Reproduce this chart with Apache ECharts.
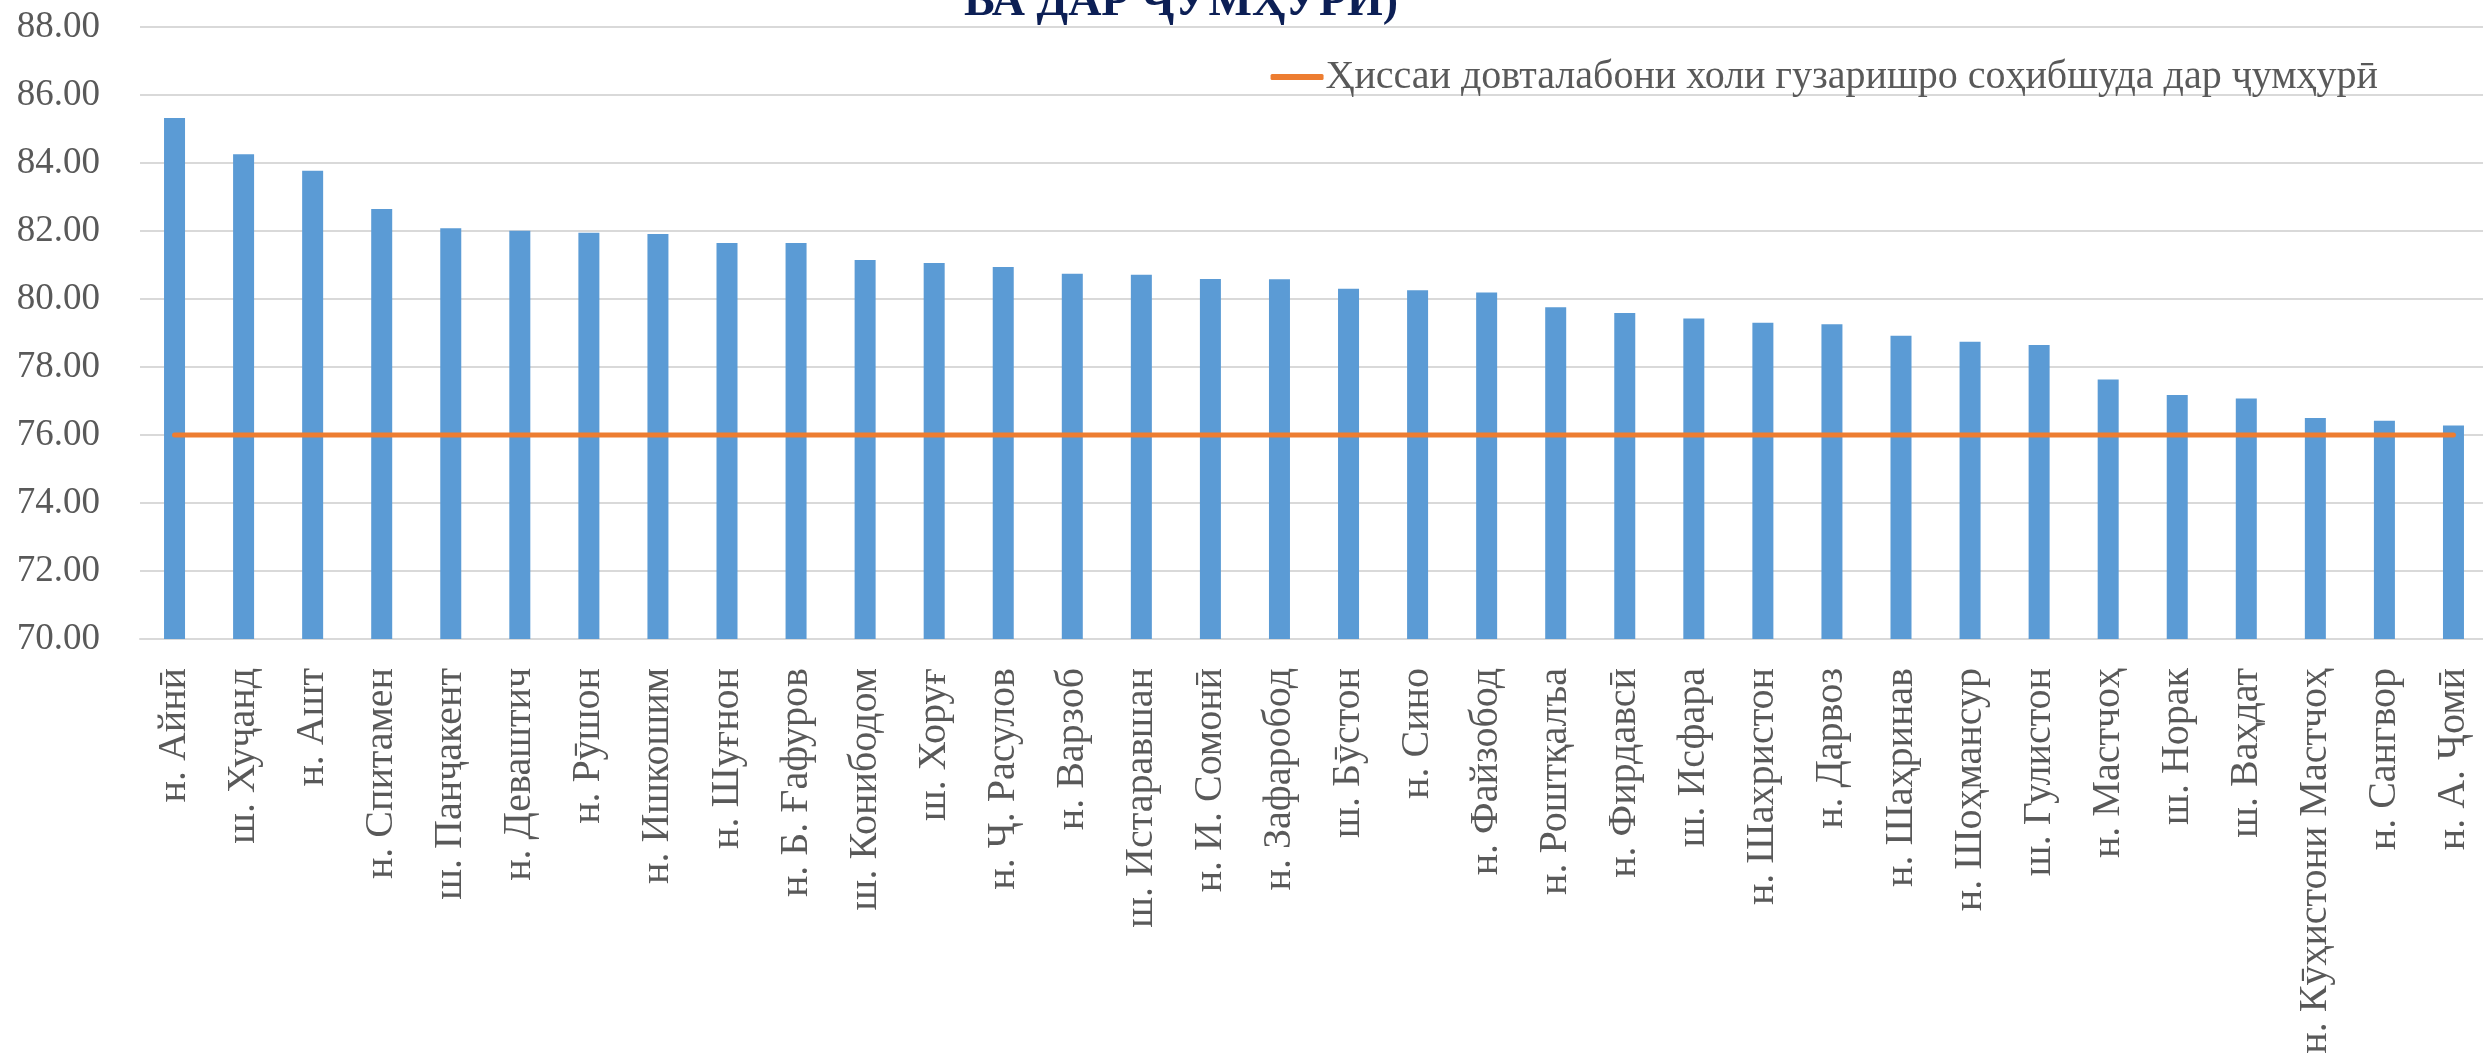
<!DOCTYPE html>
<html>
<head>
<meta charset="utf-8">
<script src="https://cdn.jsdelivr.net/npm/echarts@6/dist/echarts.min.js"></script>
<style>
  html, body { margin: 0; padding: 0; background: #fff; }
  #chart { width: 2483px; height: 1054px; }
</style>
</head>
<body>
<div id="chart"></div>
<script>
const districts = [
  'н. Айнӣ', 'ш. Хуҷанд', 'н. Ашт', 'н. Спитамен', 'ш. Панҷакент', 'н. Деваштич',
  'н. Рӯшон', 'н. Ишкошим', 'н. Шуғнон', 'н. Б. Ғафуров', 'ш. Конибодом', 'ш. Хоруғ',
  'н. Ҷ. Расулов', 'н. Варзоб', 'ш. Истаравшан', 'н. И. Сомонӣ', 'н. Зафаробод',
  'ш. Бӯстон', 'н. Сино', 'н. Файзобод', 'н. Роштқалъа', 'н. Фирдавсӣ', 'ш. Исфара',
  'н. Шахристон', 'н. Дарвоз', 'н. Шаҳринав', 'н. Шоҳмансур', 'ш. Гулистон',
  'н. Мастчоҳ', 'ш. Норак', 'ш. Ваҳдат', 'н. Кӯҳистони Мастчоҳ', 'н. Сангвор', 'н. А. Ҷомӣ'
]

// share of applicants who passed, by district (%)
const districtShare = [
  85.32, 84.26, 83.77, 82.65, 82.08, 82.01, 81.95, 81.91, 81.65, 81.65,
  81.15, 81.06, 80.94, 80.74, 80.71, 80.59, 80.58, 80.30, 80.26, 80.19,
  79.76, 79.59, 79.43, 79.30, 79.26, 78.92, 78.74, 78.65, 77.63, 77.18,
  77.07, 76.50, 76.42, 76.28
]

// republic-wide share, same for every district
const republicShare = [
  76, 76, 76, 76, 76, 76, 76, 76, 76, 76,
  76, 76, 76, 76, 76, 76, 76, 76, 76, 76,
  76, 76, 76, 76, 76, 76, 76, 76, 76, 76,
  76, 76, 76, 76
]

const yMin = 70
const yMax = 88
const yStep = 2

const titleText = 'ВА ДАР ҶУМҲУРӢ)'
const lineName = 'Ҳиссаи довталабони холи гузаришро соҳибшуда дар ҷумҳурӣ'

const font = '"Liberation Serif", "Times New Roman", serif'
const grey = '#595959'

const chart = echarts.init(document.getElementById('chart'), null, { renderer: 'canvas' })

const option = {
  backgroundColor: '#fff',
  animation: false,
  textStyle: { fontFamily: font },

  // only the last line of the title is visible, the rest is cut off above
  title: {
    text: titleText,
    left: 964,
    top: -20,
    padding: 0,
    textStyle: { fontFamily: font, fontSize: 46, fontWeight: 'bold', color: '#0c1f55', lineHeight: 46 }
  },

  legend: {
    data: [{ name: lineName, icon: 'roundRect' }],
    right: 105,
    top: 57,
    padding: 0,
    itemWidth: 53,
    itemHeight: 6,
    itemGap: 0,
    textStyle: { fontFamily: font, fontSize: 40, color: grey, padding: [0, 0, 0, -3] }
  },

  // fixed plot box; labels may run to the page edge like in the original
  grid: {
    left: 140,
    right: -5,
    top: 27,
    bottom: 415,
    containLabel: false,
    outerBoundsMode: 'none'
  },

  xAxis: {
    type: 'category',
    data: districts,
    axisLine: { lineStyle: { color: '#d9d9d9', width: 2 } },
    axisTick: { show: false },
    axisLabel: {
      interval: 0,
      rotate: 90,
      margin: 29,
      fontFamily: font,
      fontSize: 40,
      color: grey
    }
  },

  yAxis: {
    type: 'value',
    min: yMin,
    max: yMax,
    interval: yStep,
    axisLine: { show: false },
    axisTick: { show: false },
    axisLabel: {
      margin: 40,
      fontFamily: font,
      fontSize: 37,
      color: grey,
      formatter: v => v.toFixed(2)
    },
    splitLine: { lineStyle: { color: '#d9d9d9', width: 2 } }
  },

  series: [
    {
      name: 'district',
      type: 'bar',
      data: districtShare,
      barWidth: 21,
      itemStyle: { color: '#5b9bd5' }
    },
    {
      name: lineName,
      type: 'line',
      data: republicShare,
      symbol: 'none',
      lineStyle: { color: '#ed7d31', width: 5, cap: 'round' },
      itemStyle: { color: '#ed7d31' },
      z: 10
    }
  ]
}

chart.setOption(option)
</script>
</body>
</html>
